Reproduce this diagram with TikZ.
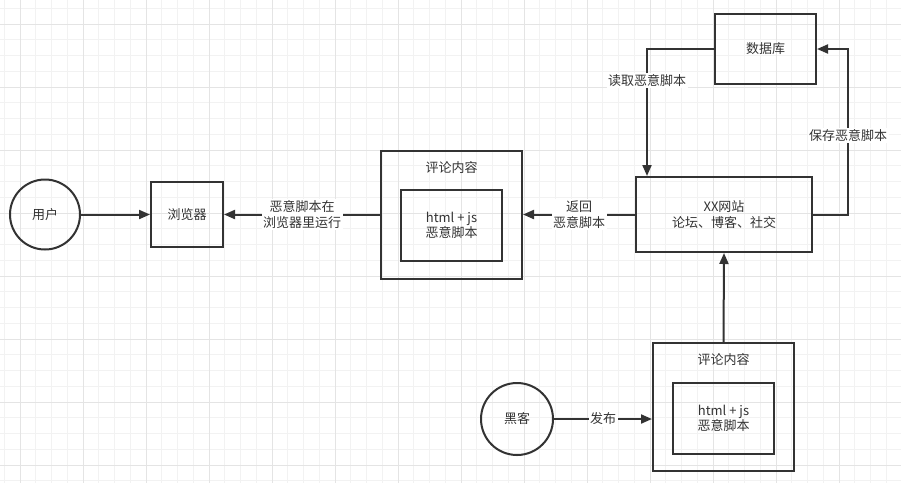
\documentclass[tikz,border=0pt]{standalone}
\usepackage{fontspec}
\setmainfont{Noto Sans CJK SC}
\usetikzlibrary{arrows.meta}
\definecolor{ink}{HTML}{333333}
\definecolor{gridmin}{HTML}{F2F2F2}
\definecolor{gridmaj}{HTML}{E4E4E4}

\begin{document}
\begin{tikzpicture}[x=1pt,y=-1pt,every node/.style={font=\fontsize{13}{15.5}\selectfont,align=center,text=ink},box/.style={draw=ink,line width=2pt,inner sep=0pt},actor/.style={draw=ink,line width=2pt,circle,minimum size=70pt},flow/.style={draw=ink,line width=2pt,-{Triangle[length=11pt,width=9pt]}},lbl/.style={fill=white,inner sep=1.5pt}]
\useasboundingbox (0,0) rectangle (901,483);
\fill[white] (0,0) rectangle (901,483);
\foreach \i in {0,...,57} \draw[gridmin,line width=1pt] ({4.25+15.75*\i},0) -- ({4.25+15.75*\i},483);
\foreach \j in {0,...,30} \draw[gridmin,line width=1pt] (0,{8.25+15.75*\j}) -- (901,{8.25+15.75*\j});
\foreach \i in {0,...,14} \draw[gridmaj,line width=1pt] ({20+63*\i},0) -- ({20+63*\i},483);
\foreach \j in {0,...,7} \draw[gridmaj,line width=1pt] (0,{24+63*\j}) -- (901,{24+63*\j});
\node[actor] (user) at (45,214.5) {用户};
\node[box,minimum width=72pt,minimum height=65pt] (browser) at (187,214.5) {浏览器};
\node[box,minimum width=141pt,minimum height=128pt] (cmt) at (451.5,214.5) {};
\node (cmttitle) at (451.5,168) {评论内容};
\node[box,minimum width=101pt,minimum height=71pt] (cmtcode) at (451.5,225.5) {html + js\\恶意脚本};
\node[box,minimum width=176pt,minimum height=75pt] (site) at (724,214.5) {XX网站\\论坛、博客、社交};
\node[box,minimum width=101pt,minimum height=70pt] (db) at (765.5,49) {数据库};
\node[box,minimum width=141pt,minimum height=128pt] (post) at (723.5,407) {};
\node (posttitle) at (723.5,360) {评论内容};
\node[box,minimum width=101pt,minimum height=71pt] (postcode) at (723.5,418.5) {html + js\\恶意脚本};
\node[actor,minimum size=72pt] (hacker) at (517,419) {黑客};
\draw[flow] (user) -- (browser);
\draw[flow] (cmt.west) -- node[lbl] (runlbl) {恶意脚本在\\浏览器里运行} (browser.east);
\draw[flow] (site.west) -- node[lbl] (backlbl) {返回\\恶意脚本} (cmt.east);
\draw[flow] (db.west) -| node[lbl,pos=0.625] (readlbl) {读取恶意脚本} ([xshift=12pt]site.north west);
\draw[flow] (site.east) -- ++(35,0) |- node[lbl,pos=0.24] (savelbl) {保存恶意脚本} (db.east);
\draw[flow] (post.north) -- (site.south);
\draw[flow] (hacker) -- node[lbl] (pubnlbl) {发布} (hacker -| post.west);
\end{tikzpicture}
\end{document}
